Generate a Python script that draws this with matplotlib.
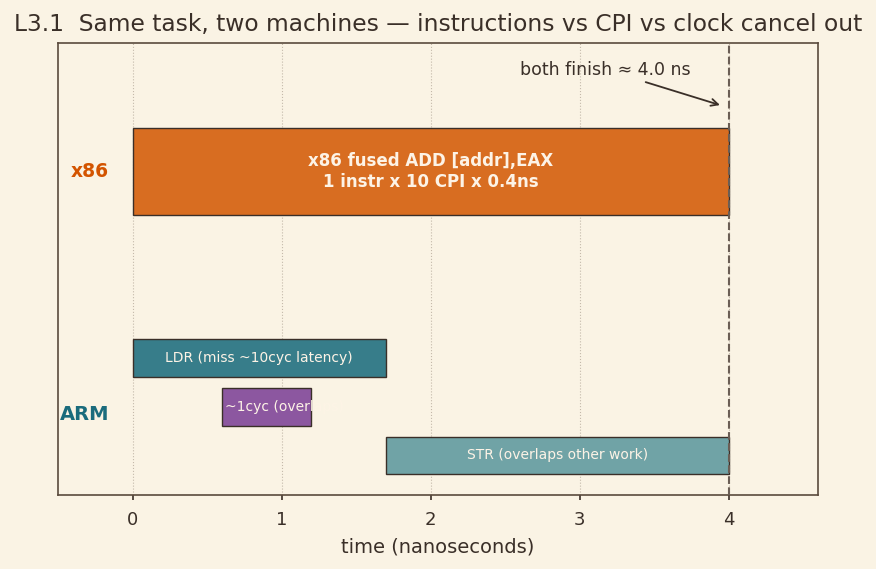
import matplotlib.pyplot as plt

# 数据
x86_start = 0.0
x86_dur = 4.0
x86_text = "x86 fused ADD [addr],EAX\n1 instr x 10 CPI x 0.4ns"

arm_names = ["LDR (miss ~10cyc latency)", "~1cyc (overlaps)", "STR (overlaps other work)"]
arm_start = [0.0, 0.6, 1.7]
arm_dur = [1.7, 0.6, 2.3]
finish_ns = 4.0

bg = '#faf3e4'
ink = '#3a2f28'
plt.rcParams['font.family'] = ['DejaVu Sans']

fig, ax = plt.subplots(figsize=(8.76, 5.69), dpi=100)
fig.patch.set_facecolor(bg)
ax.set_facecolor(bg)

# x86 条
ax.barh(3.29, x86_dur, left=x86_start, height=0.88, color='#d86d21',
        edgecolor=ink, linewidth=1, zorder=3)
ax.text(x86_start + x86_dur / 2, 3.29, x86_text, ha='center', va='center',
        color='#fdf3e6', fontsize=12, fontweight='bold', zorder=4, linespacing=1.2)

# ARM 条
arm_y = [1.395, 0.895, 0.405]
arm_colors = ['#377d8a', '#8c57a0', '#70a3a6']
arm_align = ['center', 'left', 'center']
for name, s, d, y, c, al in zip(arm_names, arm_start, arm_dur, arm_y, arm_colors, arm_align):
    bar = ax.barh(y, d, left=s, height=0.38, color=c, edgecolor=ink,
                  linewidth=1, zorder=3)[0]
    tx = s + d / 2 if al == 'center' else s + 0.02
    t = ax.text(tx, y, name, ha=al, va='center', color='#fdf3e6',
                fontsize=10, zorder=4)
    t.set_clip_path(bar)

ax.text(-0.29, 3.29, "x86", ha='center', va='center', color='#d35400',
        fontsize=13.5, fontweight='bold')
ax.text(-0.32, 0.82, "ARM", ha='center', va='center', color='#1a6b7c',
        fontsize=14, fontweight='bold')

ax.axvline(finish_ns, color='#6b5e55', linestyle='--', linewidth=1.5, zorder=5)
ax.annotate("both finish \u2248 4.0 ns", xy=(3.96, 3.96), xytext=(3.17, 4.33),
            ha='center', va='center', fontsize=12.5, color=ink,
            arrowprops=dict(arrowstyle='->', color=ink, lw=1.3))

ax.set_xlim(-0.5, 4.6)
ax.set_ylim(0, 4.6)
ax.set_yticks([])
ax.set_xticks([0, 1, 2, 3, 4])
ax.tick_params(axis='x', labelsize=13, colors=ink, width=1.2, pad=8)
ax.grid(axis='x', linestyle=':', color='#c4b9aa', linewidth=0.8, zorder=0)
for sp in ax.spines.values():
    sp.set_color('#5a4a3c')
    sp.set_linewidth(1.2)
ax.set_xlabel("time (nanoseconds)", fontsize=14, color=ink, labelpad=6)
ax.set_title("L3.1  Same task, two machines \u2014 instructions vs CPI vs clock cancel out",
             fontsize=16.8, color=ink, pad=9)

fig.subplots_adjust(left=58/876, right=818/876, top=1-43/569, bottom=1-495/569)
fig.savefig('out.png', dpi=100, facecolor=bg)
